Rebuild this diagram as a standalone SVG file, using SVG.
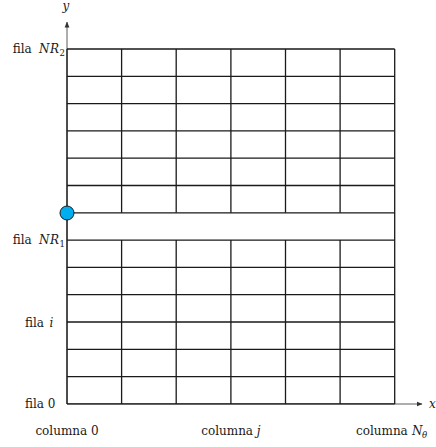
<svg xmlns="http://www.w3.org/2000/svg" width="436" height="447" viewBox="0 0 436 447">
  <defs>
    <style>
      .grid { fill: none; stroke: #1a1a1a; stroke-width: 1.3; }
      .axis { fill: none; stroke: #333; stroke-width: 0.8; }
      .t { font-family: "DejaVu Serif", "Liberation Serif", serif; font-size: 12px; fill: #1a1a1a; }
      .m { font-style: italic; }
      .sub { font-size: 8.5px; }
    </style>
    <marker id="arr" viewBox="0 0 6 6" refX="5.5" refY="3" markerWidth="6" markerHeight="6" markerUnits="userSpaceOnUse" orient="auto">
      <path d="M0,0.6 L6,3 L0,5.4 Z" fill="#333"/>
    </marker>
  </defs>
  <rect width="436" height="447" fill="#ffffff"/>

  <g id="connectors">
    <path id="y-axis" class="axis" d="M67,404 L67,22" marker-end="url(#arr)"/>
    <path id="x-axis" class="axis" d="M67,404 L422,404" marker-end="url(#arr)"/>
  </g>

  <g id="grid" class="grid">
    <path d="M67,49 H394.7 M67,76.3 H394.7 M67,103.6 H394.7 M67,130.9 H394.7 M67,158.2 H394.7 M67,185.5 H394.7 M67,212.8 H394.7 M67,240.1 H394.7 M67,267.4 H394.7 M67,294.7 H394.7 M67,322 H394.7 M67,349.3 H394.7 M67,376.6 H394.7 M67,403.9 H394.7"/>
    <path d="M67,49 V404 M394.7,49 V404"/>
    <path d="M121.6,49 V212.8 M176.2,49 V212.8 M230.9,49 V212.8 M285.5,49 V212.8 M340.1,49 V212.8"/>
    <path d="M121.6,240.1 V404 M176.2,240.1 V404 M230.9,240.1 V404 M285.5,240.1 V404 M340.1,240.1 V404"/>
  </g>

  <g id="point">
    <circle cx="67" cy="213" r="7" fill="#00AEEF" stroke="#1a1a1a" stroke-width="1"/>
  </g>

  <g id="labels">
    <text class="t m" x="66" y="10" text-anchor="middle">y</text>
    <text class="t m" x="429" y="408">x</text>

    <text class="t" y="53"><tspan x="12.7">fila</tspan><tspan class="m" x="39">N</tspan><tspan class="m" x="50">R</tspan><tspan class="sub" x="59.5" dy="2.5">2</tspan></text>
    <text class="t" y="244"><tspan x="12.7">fila</tspan><tspan class="m" x="39">N</tspan><tspan class="m" x="50">R</tspan><tspan class="sub" x="59.5" dy="2.5">1</tspan></text>
    <text class="t" y="326.5"><tspan x="25">fila</tspan><tspan class="m" x="49.5">i</tspan></text>
    <text class="t" x="25" y="408">fila 0</text>

    <text class="t" x="67" y="435" text-anchor="middle">columna 0</text>
    <text class="t" x="230.9" y="435" text-anchor="middle">columna <tspan class="m">j</tspan></text>
    <text class="t" y="435"><tspan x="356">columna</tspan><tspan class="m" x="412">N</tspan><tspan class="sub m" x="422" dy="2.5">θ</tspan></text>
  </g>
</svg>
